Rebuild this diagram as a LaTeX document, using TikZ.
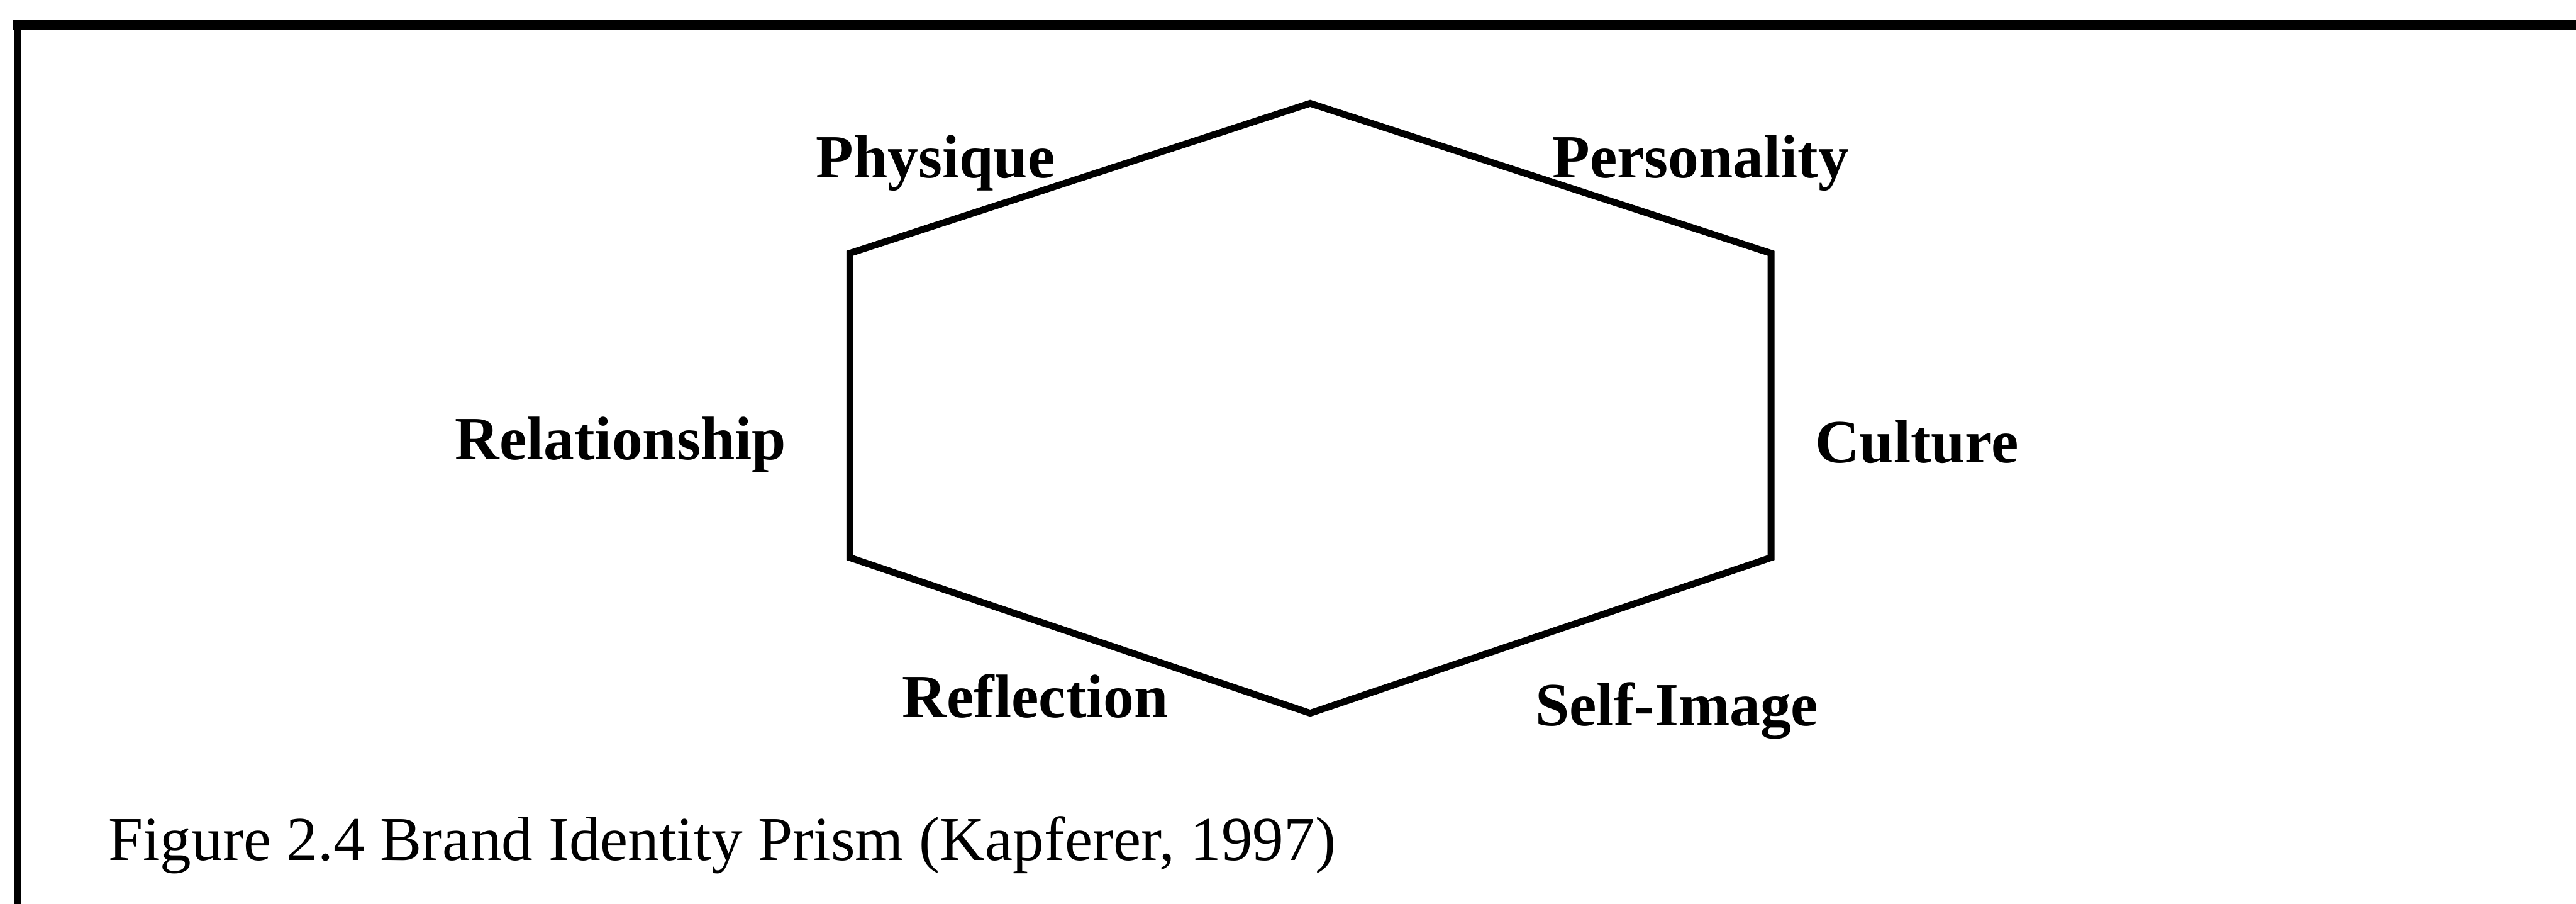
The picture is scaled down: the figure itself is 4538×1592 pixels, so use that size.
\documentclass[tikz,border=0pt]{standalone}
\usepackage{fontspec}
\setmainfont{Liberation Serif}
\usetikzlibrary{positioning,calc}

\begin{document}
\begin{tikzpicture}[x=0.004cm, y=-0.004cm,
  facet/.style={font=\fontsize{12.3}{14}\selectfont\bfseries, inner sep=0pt, anchor=base west},
  capt/.style={font=\fontsize{12.5}{15}\selectfont, inner sep=0pt, anchor=base west},
  prism/.style={line width=1.36pt, line join=miter},
  frame/.style={line cap=rect}]

\useasboundingbox (0,0) rectangle (4538,1592);

\coordinate (tl) at (31,44);
\coordinate (tr) at (4538,44);
\coordinate (bl) at (31,1592);
\draw[frame, line width=2pt] (tl) -- (tr);
\draw[frame, line width=1.25pt] (tl) -- (bl);

\coordinate (top) at (2308,182);
\coordinate (ul) at (1497,446);
\coordinate (ll) at (1497,982);
\coordinate (bot) at (2308,1256);
\coordinate (lr) at (3120,982);
\coordinate (ur) at (3120,446);
\draw[prism] (top) -- (ur) -- (lr) -- (bot) -- (ll) -- (ul) -- cycle;

\node (phys) [facet] at (1436,313) {Physique};
\node (pers) [facet] at (2733,313) {Personality};
\node (rel) [facet] at (800,809) {Relationship};
\node (cult) [facet] at (3196,815) {Culture};
\node (refl) [facet] at (1588,1263) {Reflection};
\node (self) [facet] at (2703,1278) {Self-Image};

\node (caption) [capt] at (189,1515) {Figure 2.4 Brand Identity Prism (Kapferer, 1997)};

\end{tikzpicture}
\end{document}
